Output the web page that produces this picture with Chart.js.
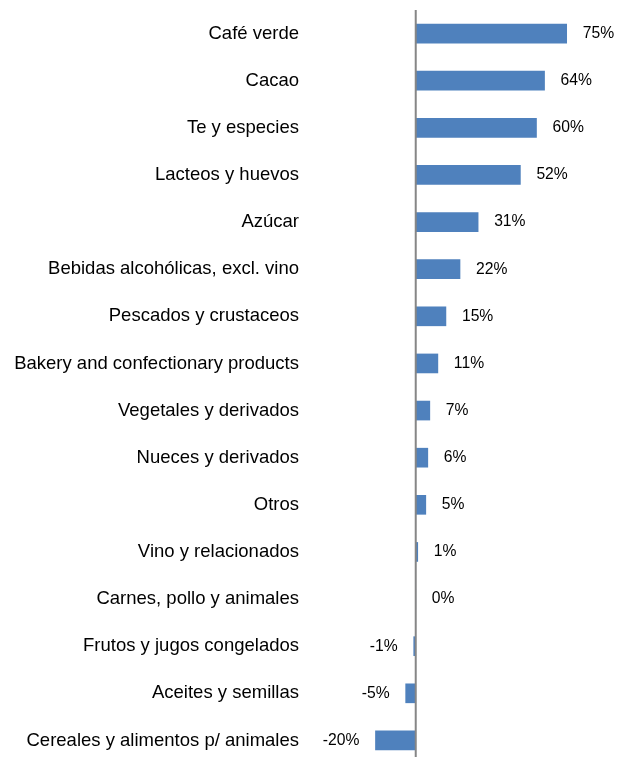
<!DOCTYPE html>
<html>
<head>
<meta charset="utf-8">
<script src="https://cdn.jsdelivr.net/npm/chart.js@4"></script>
<style>
html,body{margin:0;padding:0;background:#fff;overflow:hidden;}
#wrap{width:617px;height:764px;position:relative;}
</style>
</head>
<body>
<div id="wrap"><canvas id="c"></canvas></div>
<script>
const categories = [
  "Café verde",
  "Cacao",
  "Te y especies",
  "Lacteos y huevos",
  "Azúcar",
  "Bebidas alcohólicas, excl. vino",
  "Pescados y crustaceos",
  "Bakery and confectionary products",
  "Vegetales y derivados",
  "Nueces y derivados",
  "Otros",
  "Vino y relacionados",
  "Carnes, pollo y animales",
  "Frutos y jugos congelados",
  "Aceites y semillas",
  "Cereales y alimentos p/ animales"
];
const values = [75, 64, 60, 52, 31, 22, 15, 11, 7, 6, 5, 1, 0, -1, -5, -20];
const xMin = -58;
const xMax = 100;

const FONT = "'Liberation Sans', Arial, sans-serif";

const valueLabels = {
  id: 'valueLabels',
  afterDatasetsDraw(chart) {
    const ctx = chart.ctx;
    const meta = chart.getDatasetMeta(0);
    const xs = chart.scales.x;
    const x0 = xs.getPixelForValue(0);
    ctx.save();
    ctx.strokeStyle = '#868686';
    ctx.lineWidth = 2;
    ctx.beginPath();
    ctx.moveTo(x0, chart.chartArea.top);
    ctx.lineTo(x0, chart.chartArea.bottom);
    ctx.stroke();
    ctx.font = '15.7px ' + FONT;
    ctx.fillStyle = '#000';
    ctx.textBaseline = 'middle';
    meta.data.forEach((bar, i) => {
      const v = values[i];
      const txt = v + '%';
      if (v < 0) {
        ctx.textAlign = 'right';
        ctx.fillText(txt, bar.x - 16, bar.y);
      } else {
        ctx.textAlign = 'left';
        ctx.fillText(txt, bar.x + 16, bar.y);
      }
    });
    ctx.restore();
  }
};

new Chart(document.getElementById('c'), {
  type: 'bar',
  data: {
    labels: categories,
    datasets: [{
      data: values,
      backgroundColor: '#4F81BD',
      borderWidth: 0,
      barThickness: 19
    }]
  },
  options: {
    indexAxis: 'y',
    responsive: true,
    maintainAspectRatio: false,
    animation: false,
    layout: { padding: { top: 10, left: 0, right: 0, bottom: 0 } },
    plugins: { legend: { display: false }, tooltip: { enabled: false } },
    scales: {
      x: {
        display: false,
        min: xMin,
        max: xMax
      },
      y: {
        afterFit: s => { s.width = 299; s.paddingTop = 0; s.paddingBottom = 0; },
        grid: { display: false, drawTicks: false },
        border: { display: false },
        ticks: {
          padding: 0,
          color: '#000',
          font: { family: FONT, size: 18.5 }
        }
      }
    }
  },
  plugins: [valueLabels]
});
</script>
</body>
</html>
